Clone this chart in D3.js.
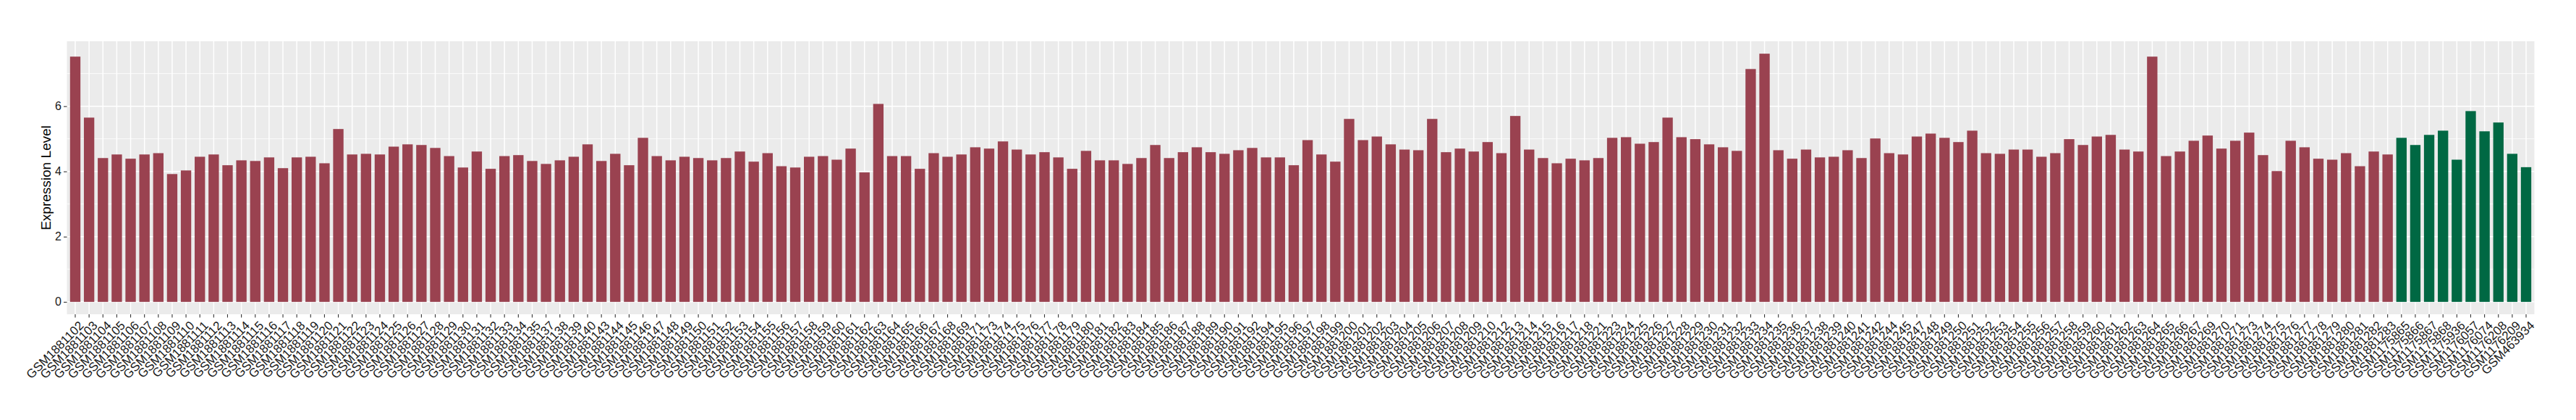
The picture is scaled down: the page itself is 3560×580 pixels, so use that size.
<!DOCTYPE html>
<html>
<head>
<meta charset="utf-8">
<script src="https://cdn.jsdelivr.net/npm/d3@7"></script>
<style>
body{margin:0;background:#fff;}
</style>
</head>
<body>
<svg id="chart" width="3560" height="580"></svg>
<script>
//样本名称 (红色组)
var groupA_ids=[
"GSM1881102","GSM1881103","GSM1881104","GSM1881105","GSM1881106","GSM1881107","GSM1881108","GSM1881109","GSM1881110","GSM1881111",
"GSM1881112","GSM1881113","GSM1881114","GSM1881115","GSM1881116","GSM1881117","GSM1881118","GSM1881119","GSM1881120","GSM1881121",
"GSM1881122","GSM1881123","GSM1881124","GSM1881125","GSM1881126","GSM1881127","GSM1881128","GSM1881129","GSM1881130","GSM1881131",
"GSM1881132","GSM1881133","GSM1881134","GSM1881135","GSM1881137","GSM1881138","GSM1881139","GSM1881140","GSM1881143","GSM1881144",
"GSM1881145","GSM1881146","GSM1881147","GSM1881148","GSM1881149","GSM1881150","GSM1881151","GSM1881152","GSM1881153","GSM1881154",
"GSM1881155","GSM1881156","GSM1881157","GSM1881158","GSM1881159","GSM1881160","GSM1881161","GSM1881162","GSM1881163","GSM1881164",
"GSM1881165","GSM1881166","GSM1881167","GSM1881168","GSM1881169","GSM1881171","GSM1881173","GSM1881174","GSM1881175","GSM1881176",
"GSM1881177","GSM1881178","GSM1881179","GSM1881180","GSM1881181","GSM1881182","GSM1881183","GSM1881184","GSM1881185","GSM1881186",
"GSM1881187","GSM1881188","GSM1881189","GSM1881190","GSM1881191","GSM1881192","GSM1881194","GSM1881195","GSM1881196","GSM1881197",
"GSM1881198","GSM1881199","GSM1881200","GSM1881201","GSM1881202","GSM1881203","GSM1881204","GSM1881205","GSM1881206","GSM1881207",
"GSM1881208","GSM1881209","GSM1881210","GSM1881212","GSM1881213","GSM1881214","GSM1881215","GSM1881216","GSM1881217","GSM1881218",
"GSM1881221","GSM1881223","GSM1881224","GSM1881225","GSM1881226","GSM1881227","GSM1881228","GSM1881229","GSM1881230","GSM1881231",
"GSM1881232","GSM1881233","GSM1881234","GSM1881235","GSM1881236","GSM1881237","GSM1881238","GSM1881239","GSM1881240","GSM1881241",
"GSM1881242","GSM1881244","GSM1881245","GSM1881247","GSM1881248","GSM1881249","GSM1881250","GSM1881251","GSM1881252","GSM1881253",
"GSM1881254","GSM1881255","GSM1881256","GSM1881257","GSM1881258","GSM1881259","GSM1881260","GSM1881261","GSM1881262","GSM1881263",
"GSM1881264","GSM1881265","GSM1881266","GSM1881267","GSM1881269","GSM1881270","GSM1881271","GSM1881273","GSM1881274","GSM1881275",
"GSM1881276","GSM1881277","GSM1881278","GSM1881279","GSM1881280","GSM1881281","GSM1881282","GSM1881283"];
var groupA_vals=[
7.52,5.65,4.41,4.52,4.39,4.52,4.56,3.92,4.03,4.45,
4.52,4.19,4.34,4.32,4.43,4.10,4.43,4.45,4.25,5.30,
4.52,4.54,4.52,4.76,4.83,4.81,4.72,4.47,4.12,4.61,
4.08,4.47,4.50,4.32,4.23,4.34,4.45,4.83,4.32,4.54,
4.19,5.03,4.47,4.34,4.45,4.41,4.34,4.41,4.61,4.30,
4.56,4.16,4.12,4.45,4.47,4.36,4.70,3.97,6.07,4.47,
4.47,4.08,4.56,4.45,4.52,4.74,4.70,4.92,4.67,4.52,
4.59,4.43,4.08,4.63,4.34,4.34,4.23,4.41,4.81,4.41,
4.59,4.74,4.59,4.54,4.65,4.72,4.43,4.43,4.19,4.96,
4.52,4.30,5.61,4.96,5.07,4.83,4.67,4.65,5.61,4.59,
4.70,4.61,4.90,4.56,5.70,4.67,4.41,4.25,4.39,4.34,
4.41,5.03,5.05,4.85,4.90,5.65,5.05,4.99,4.83,4.74,
4.63,7.14,7.61,4.65,4.39,4.67,4.43,4.45,4.65,4.41,
5.01,4.56,4.52,5.07,5.16,5.03,4.90,5.25,4.56,4.54,
4.67,4.67,4.45,4.56,4.99,4.81,5.07,5.12,4.67,4.61,
7.52,4.47,4.61,4.94,5.10,4.70,4.94,5.19,4.50,4.01,
4.94,4.74,4.39,4.36,4.56,4.16,4.61,4.52];

//样本名称 (绿色组)
var groupB_ids=["GSM1175865","GSM1175866","GSM1175867","GSM1175868","GSM1175936","GSM1176057","GSM1176074","GSM1176208","GSM1176209","GSM463934"];
var groupB_vals=[5.03,4.81,5.12,5.25,4.36,5.85,5.23,5.50,4.54,4.13];

var yTicks=[0,2,4,6];
var yMinor=[1,3,5,7];
var yTitle="Expression Level";

var colorA="#9A4250",colorB="#006843";

var data=[];
for(var i=0;i<groupA_ids.length;i++)
    data.push({id:groupA_ids[i],v:groupA_vals[i],c:colorA});
for(var i=0;i<groupB_ids.length;i++)
    data.push({id:groupB_ids[i],v:groupB_vals[i],c:colorB});

var svg=d3.select("#chart");
//面板边界 (不要用 top 作变量名, 会和 window.top 冲突)
var p_left=92.5,p_right=3502.5,p_top=57,p_bottom=434;

var maxV=d3.max(data,function(d){return d.v;});
var scale_y=d3.scaleLinear()
    .domain([-0.05*maxV,1.05*maxV])
    .range([p_bottom,p_top]);
var scale_x=d3.scaleBand()
    .domain(data.map(function(d){return d.id;}))
    .range([p_left,p_right])
    .paddingInner(0.25)
    .paddingOuter(0.225);

//面板背景
svg.append("rect")
    .attr("x",p_left).attr("y",p_top)
    .attr("width",p_right-p_left).attr("height",p_bottom-p_top)
    .attr("fill","#EBEBEB");

var grid=svg.append("g");
grid.selectAll(".minor")
    .data(yMinor).enter().append("line")
    .attr("x1",p_left).attr("x2",p_right)
    .attr("y1",function(d){return scale_y(d);})
    .attr("y2",function(d){return scale_y(d);})
    .attr("stroke","#fff").attr("stroke-width",0.8);
grid.selectAll(".major")
    .data(yTicks).enter().append("line")
    .attr("x1",p_left).attr("x2",p_right)
    .attr("y1",function(d){return scale_y(d);})
    .attr("y2",function(d){return scale_y(d);})
    .attr("stroke","#fff").attr("stroke-width",1.5);
grid.selectAll(".vx")
    .data(data).enter().append("line")
    .attr("x1",function(d){return scale_x(d.id)+scale_x.bandwidth()/2;})
    .attr("x2",function(d){return scale_x(d.id)+scale_x.bandwidth()/2;})
    .attr("y1",p_top).attr("y2",p_bottom)
    .attr("stroke","#fff").attr("stroke-width",1.5);

//柱子
svg.append("g").selectAll("rect")
    .data(data).enter().append("rect")
    .attr("x",function(d){return scale_x(d.id);})
    .attr("width",scale_x.bandwidth())
    .attr("y",function(d){return scale_y(d.v);})
    .attr("height",function(d){return scale_y(0)-scale_y(d.v);})
    .attr("fill",function(d){return d.c;});

//y轴
var yAxis=svg.append("g")
    .attr("transform","translate("+p_left+",0)")
    .call(d3.axisLeft(scale_y).tickValues(yTicks).tickSize(4.5).tickPadding(3).tickFormat(d3.format("d")));
yAxis.select(".domain").remove();
yAxis.selectAll("line").attr("stroke","#333").attr("stroke-width",1.1);
yAxis.selectAll("text")
    .attr("font-family","Liberation Sans, Arial, sans-serif")
    .attr("font-size",16).attr("fill","#1a1a1a");

//x轴
var xAxis=svg.append("g")
    .attr("transform","translate(0,"+p_bottom+")")
    .call(d3.axisBottom(scale_x).tickSize(4.5).tickPadding(0));
xAxis.select(".domain").remove();
xAxis.selectAll("line").attr("stroke","#333").attr("stroke-width",1.1);
xAxis.selectAll("text")
    .attr("font-family","Liberation Sans, Arial, sans-serif")
    .attr("font-size",17).attr("fill","#1a1a1a")
    .attr("text-anchor","end")
    .attr("y",0).attr("dy","0.72em")
    .attr("transform","translate(4,8) rotate(-45)");

//y轴标题
svg.append("text")
    .attr("transform","translate(70,"+((p_top+p_bottom)/2)+") rotate(-90)")
    .attr("text-anchor","middle")
    .attr("font-family","Liberation Sans, Arial, sans-serif")
    .attr("font-size",19)
    .attr("fill","#000")
    .text(yTitle);
</script>
</body>
</html>
